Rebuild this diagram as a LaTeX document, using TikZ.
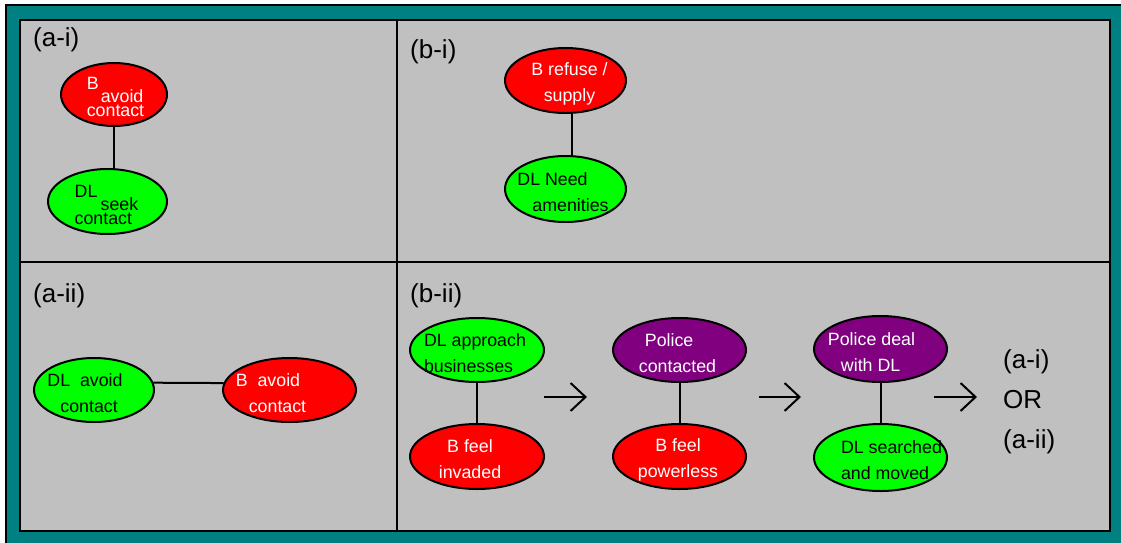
\documentclass[tikz,border=0pt]{standalone}
\usepackage{fontspec}
\setmainfont{Liberation Sans}
\usetikzlibrary{shapes.geometric,arrows.meta}
\definecolor{framecol}{HTML}{008080}
\definecolor{panelcol}{HTML}{C0C0C0}
\definecolor{bred}{HTML}{FF0000}
\definecolor{dlgreen}{HTML}{00FF00}
\definecolor{polpurple}{HTML}{800080}

\begin{document}
\begin{tikzpicture}[x=1pt,y=-1pt,
  blob/.style 2 args={ellipse,draw=black,line width=2pt,inner sep=0pt,minimum width=#1,minimum height=#2},
  intxt/.style={align=left,inner sep=0pt,yshift=-3pt,font=\fontsize{17.8}{26}\selectfont},
  wtxt/.style={intxt,text=white},
  btxt/.style={intxt,text=black},
  tight/.style={font=\fontsize{17.8}{13.5}\selectfont},
  tag/.style={anchor=west,inner sep=0pt,font=\fontsize{26}{40}\selectfont},
  link/.style={line width=2pt},
  flow/.style={line width=2pt,-{Straight Barb[length=15pt,width=28pt,line width=2pt]}}]
\useasboundingbox (0,0) rectangle (1121,543);
\draw[fill=framecol,line width=1.5pt] (6,5) rectangle (1135,555);
\draw[fill=panelcol,line width=2.5pt] (20,20) rectangle (1110,531);
\draw[line width=2.5pt] (397,20) -- (397,531);
\draw[line width=2.5pt] (20,262) -- (1110,262);

\node[tag] (ai) at (33,40) {(a-i)};
\node[tag] (bi) at (410,52) {(b-i)};
\node[tag] (aii) at (33,296) {(a-ii)};
\node[tag] (bii) at (410,296) {(b-ii)};

\node[blob={106}{63},fill=bred,label={[wtxt,tight,xshift=1.5pt,yshift=1pt]center:B\\\hspace*{14pt}avoid\\contact}] (bavoid1) at (114,94.5) {};
\node[blob={119}{65},fill=dlgreen,label={[btxt,tight,xshift=-1pt,yshift=0pt]center:DL\\\hspace*{26pt}seek\\contact}] (dlseek) at (107.5,201.5) {};
\draw[link] (bavoid1) -- (bavoid1 |- dlseek.north);

\node[blob={121}{65},fill=bred,label={[wtxt,align=center,xshift=4pt]center:B refuse /\\supply}] (brefuse) at (565.5,80.5) {};
\node[blob={121}{66},fill=dlgreen,label={[btxt,xshift=-2.5pt]center:DL Need\\\hspace*{15pt}amenities}] (dlneed) at (565.5,189) {};
\draw[link] ([xshift=6pt]brefuse.south) -- ([xshift=6pt]brefuse.south |- dlneed.north);

\node[blob={120}{64},fill=dlgreen,label={[btxt,xshift=-9pt]center:DL\ \ avoid\\\hspace*{13pt}contact}] (dlavoid) at (94,390) {};
\node[blob={133}{64},fill=bred,label={[wtxt,xshift=-18.5pt]center:B\ \ avoid\\\hspace*{13pt}contact}] (bavoid2) at (289.5,390) {};
\draw[link] (dlavoid.7) -- (bavoid2.174);

\node[blob={134}{64},fill=dlgreen,label={[btxt,xshift=-2pt]center:DL approach\\businesses}] (dlapp) at (477,350) {};
\node[blob={134}{65},fill=bred,label={[wtxt,align=center,xshift=-7pt]center:B feel\\invaded}] (binv) at (477,456.5) {};
\draw[link] (dlapp) -- (dlapp |- binv.north);

\node[blob={133}{64},fill=polpurple,label={[wtxt,xshift=-2pt]center:\hspace*{6pt}Police\\contacted}] (polc) at (679.5,350) {};
\node[blob={133}{65},fill=bred,label={[wtxt,align=center,xshift=-1.5pt]center:B feel\\powerless}] (bpow) at (679.5,456.5) {};
\draw[link] (polc) -- (polc |- bpow.north);

\node[blob={133}{66},fill=polpurple,label={[wtxt,xshift=-9pt]center:Police deal\\\hspace*{13pt}with DL}] (poldeal) at (880.5,349) {};
\node[blob={133}{67},fill=dlgreen,label={[btxt,xshift=11pt]center:DL searched\\and moved}] (dlsearch) at (880.5,457.5) {};
\draw[link] (poldeal) -- (poldeal |- dlsearch.north);

\coordinate (f1) at (544,397);
\coordinate (t1) at (587,397);
\coordinate (f2) at (759,397);
\coordinate (t2) at (801,397);
\coordinate (f3) at (934,397);
\coordinate (t3) at (977,397);
\draw[flow] (f1) -- (t1);
\draw[flow] (f2) -- (t2);
\draw[flow] (f3) -- (t3);

\node[tag,align=left] (result) at (1003,402) {(a-i)\\OR\\(a-ii)};
\end{tikzpicture}
\end{document}
